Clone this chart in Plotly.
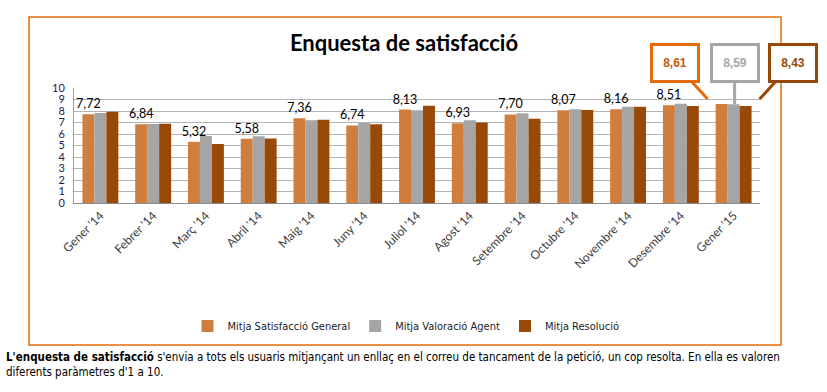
import plotly.graph_objects as go

categories = ["Gener '14", "Febrer '14", "Març '14", "Abril '14", "Maig '14", "Juny '14",
              "Juliol '14", "Agost '14", "Setembre '14", "Octubre '14", "Novembre '14",
              "Desembre '14", "Gener '15"]
satisfaccio_general = [7.72, 6.84, 5.32, 5.58, 7.36, 6.74, 8.13, 6.93, 7.70, 8.07, 8.16, 8.51, 8.61]
valoracio_agent = [7.83, 6.87, 5.83, 5.80, 7.19, 6.98, 8.06, 7.19, 7.80, 8.15, 8.38, 8.64, 8.59]
resolucio = [7.94, 6.90, 5.13, 5.60, 7.25, 6.84, 8.46, 7.01, 7.33, 8.09, 8.38, 8.43, 8.43]
series_names = ["Mitja Satisfacció General", "Mitja Valoració Agent", "Mitja Resolució"]
colors = ["#D07E3E", "#A5A5A5", "#984807"]
callout_border = ["#E46C0A", "#A6A6A6", "#984807"]
callout_text = ["#C55A11", "#A6A6A6", "#984807"]

W, H = 827, 392
L, R, T, B = 74, 67, 88, 189
pw, ph = W - L - R, H - T - B

def px_x(px):
    return (px - L) / pw

def px_y(py):
    return (H - B - py) / ph

fig = go.Figure()
last = len(categories) - 1
for i, (name, vals) in enumerate(zip(series_names, [satisfaccio_general, valoracio_agent, resolucio])):
    kw = {}
    if i == 0:
        kw = dict(texttemplate=["%{y:.2f}"] * last + [""], textposition="outside",
                  textfont=dict(family="Lato, sans-serif", size=12.5, color="#000000"),
                  cliponaxis=False, constraintext="none")
    fig.add_trace(go.Bar(x=categories, y=vals, name=name, marker=dict(color=colors[i], line_width=0), **kw))

# callouts for last month
last_vals = [satisfaccio_general[last], valoracio_agent[last], resolucio[last]]
offsets = [(-26, 5, -33, -36), (1, 0, 0, -41), (26, 7, 33, -36)]
for i, v in enumerate(last_vals):
    xs, ys, ax, ay = offsets[i]
    fig.add_annotation(x=categories[last], y=v, xref="x", yref="y",
                       text=f"<b>{v:.2f}".replace(".", ",") + "</b>",
                       font=dict(family="Liberation Sans, Arial, sans-serif", size=12, color=callout_text[i]),
                       showarrow=True, arrowhead=0, arrowwidth=3, arrowcolor=callout_border[i],
                       ax=ax, ay=ay, xshift=xs, yshift=ys, standoff=0,
                       bordercolor=callout_border[i], borderwidth=3, borderpad=0,
                       bgcolor="white", width=44, height=34)

# bottom description
fig.add_annotation(xref="paper", yref="paper", x=px_x(4), y=px_y(364), xanchor="left", yanchor="middle",
                   align="left", showarrow=False,
                   text="<b>L'enquesta de satisfacció</b> s'envia a tots els usuaris mitjançant un enllaç en el correu de tancament de la petició, un cop resolta. En ella es valoren<br>diferents paràmetres d'1 a 10.",
                   font=dict(family="DejaVu Sans Condensed, sans-serif", size=11.5, color="#000000"))

# frame
fig.add_shape(type="rect", xref="paper", yref="paper", x0=px_x(29), x1=px_x(781), y0=px_y(345), y1=px_y(17),
              line=dict(color="#E46C0A", width=1.5), fillcolor="rgba(0,0,0,0)", layer="below")

fig.update_layout(
    width=W, height=H, margin=dict(l=L, r=R, t=T, b=B, autoexpand=False),
    paper_bgcolor="white", plot_bgcolor="white",
    separators=",.",
    barmode="group", bargap=0.32, bargroupgap=0,
    title=dict(text="<b>Enquesta de satisfacció</b>", x=404 / W, xanchor="center",
               y=1 - 43 / H, yanchor="middle",
               font=dict(family="Lato, sans-serif", size=22, color="#000000")),
    legend=dict(orientation="h", x=px_x(406), xanchor="center", y=px_y(326), yanchor="middle",
                font=dict(family="DejaVu Sans Condensed, sans-serif", size=11, color="#222222"),
                itemwidth=30, traceorder="normal"),
    showlegend=True,
)
fig.update_xaxes(range=[-0.5, len(categories) - 0.5], automargin=False,
                 showline=True, linecolor="#8C8C8C", linewidth=1, tickangle=-45,
                 tickfont=dict(family="Lato, sans-serif", size=12, color="#404040"), showgrid=False)
fig.update_yaxes(range=[0, 10], dtick=1, showgrid=True, gridcolor="#B4B4B4", gridwidth=1, automargin=False,
                 showline=True, linecolor="#A0A0A0", zeroline=False, ticklabelstandoff=6,
                 tickfont=dict(family="Lato, sans-serif", size=11, color="#1F2050"))

fig.write_html("out.html", config={"displayModeBar": False},
               post_script="document.body.style.margin='0';document.body.style.padding='0';")
